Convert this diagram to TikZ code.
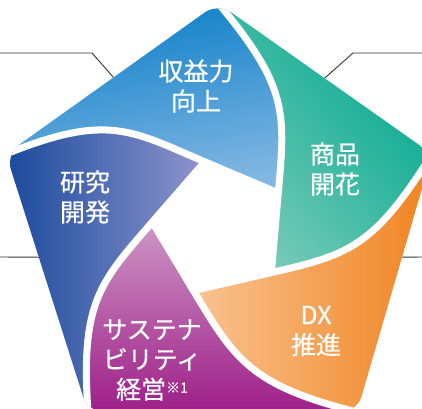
\documentclass[tikz,border=0pt]{standalone}
\usepackage{fontspec}
\newfontfamily\jp[FakeBold=0.6]{Noto Sans CJK JP}
\usetikzlibrary{calc}
\definecolor{bluedark}{HTML}{0A7EC8}
\definecolor{bluelight}{HTML}{84B8E3}
\definecolor{greendark}{HTML}{00A88F}
\definecolor{greenlight}{HTML}{76CAB7}
\definecolor{orangedark}{HTML}{F08320}
\definecolor{orangelight}{HTML}{F9C392}
\definecolor{purpledark}{HTML}{9E1F88}
\definecolor{purplelight}{HTML}{CD96C5}
\definecolor{rddark}{HTML}{1A4A9C}
\definecolor{rdlight}{HTML}{9095CD}
\definecolor{leadgray}{HTML}{333333}
\begin{document}
\begin{tikzpicture}[x=1pt,y=-1pt,
  seglabel/.style={text=white, align=center, inner sep=0pt,
    font=\jp\fontsize{25}{30}\selectfont},
  leader/.style={draw=leadgray, line width=0.9pt},
  blade/.style={draw=white, line width=7pt, line join=round}]
\useasboundingbox (0,0) rectangle (422,408);
\coordinate (O) at (220,228);
\coordinate (V0) at (218,3);
\coordinate (V1) at (432,154);
\coordinate (V2) at (357,412);
\coordinate (V3) at (88,412);
\coordinate (V4) at (6,154);
\foreach \k in {0,...,4}{
  \coordinate (C\k) at ($(O)+({-31+72*\k}:68)$);
}
\foreach \k in {0,...,4}{
  \pgfmathtruncatemacro{\kn}{mod(\k+1,5)}
  \coordinate (P\k) at ($(V\k)+({50+72*\k}:110)$);
  \coordinate (Q\k) at ($(C\k)!-1!(C\kn)$);
}
% leader lines
\coordinate (la0) at (0,53);
\coordinate (la1) at (92,53);
\coordinate (la2) at ($(V4)!0.507!(V0)$);
\coordinate (lb0) at (422,53);
\coordinate (lb1) at (353,53);
\coordinate (lb2) at ($(V0)!0.498!(V1)$);
\coordinate (lc0) at (0,257);
\coordinate (lc1) at ($(V4)!0.4!(V3)$);
\coordinate (ld0) at (422,257);
\coordinate (ld1) at ($(V1)!0.4!(V2)$);
\draw[leader] (la0) -- (la1) -- (la2);
\draw[leader] (lb0) -- (lb1) -- (lb2);
\draw[leader] (lc0) -- (lc1);
\draw[leader] (ld0) -- (ld1);
\begin{scope}
\clip[rounded corners=16pt] (V0) -- (V1) -- (V2) -- (V3) -- (V4) -- cycle;
% blue
\shade[top color=bluedark, bottom color=bluelight, shading angle=10]
  (V4) -- (V0) .. controls (P0) and (Q0) .. (C0) -- (C4) .. controls (Q4) and (P4) .. (V4) -- cycle;
% green
\shade[top color=greendark, bottom color=greenlight, shading angle=-50]
  (V0) -- (V1) .. controls (P1) and (Q1) .. (C1) -- (C0) .. controls (Q0) and (P0) .. (V0) -- cycle;
% orange
\shade[top color=orangedark, bottom color=orangelight, shading angle=-90]
  (V1) -- (V2) .. controls (P2) and (Q2) .. (C2) -- (C1) .. controls (Q1) and (P1) .. (V1) -- cycle;
% purple
\shade[top color=purplelight, bottom color=purpledark]
  (V2) -- (V3) .. controls (P3) and (Q3) .. (C3) -- (C2) .. controls (Q2) and (P2) .. (V2) -- cycle;
% research
\shade[left color=rddark, right color=rdlight]
  (V3) -- (V4) .. controls (P4) and (Q4) .. (C4) -- (C3) .. controls (Q3) and (P3) .. (V3) -- cycle;
\foreach \k in {0,...,4}{
  \pgfmathtruncatemacro{\kn}{mod(\k+1,5)}
  \draw[blade] (V\k) .. controls (P\k) and (Q\k) .. (C\k) -- (C\kn);
}
\end{scope}
\node[seglabel] (rev) at (196,86) {収益力\\向上};
\node[seglabel] (prod) at (335,169) {商品\\開花};
\node[seglabel] (rd) at (85,197) {研究\\開発};
\node[seglabel] (dx) at (316,331) {DX\\推進};
\node[seglabel] (sus) at (152,360) {サステナ\\ビリティ\\経営{\fontsize{14}{14}\selectfont\raisebox{6pt}{※1}}};
\end{tikzpicture}
\end{document}
